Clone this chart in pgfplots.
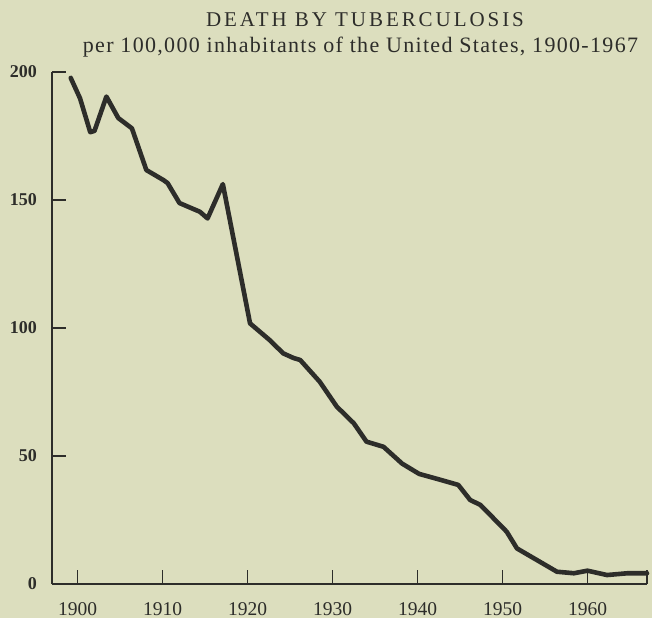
\documentclass[border=0pt]{standalone}
\usepackage{fontspec}
\setmainfont{Liberation Serif}
\newfontfamily\titleA[LetterSpace=14]{Liberation Serif}
\newfontfamily\titleB[LetterSpace=6]{Liberation Serif}
\usepackage{pgfplots}
\pgfplotsset{compat=1.18}
\definecolor{bg}{RGB}{220,222,190}
\definecolor{ink}{RGB}{45,45,42}
\begin{document}
\begin{tikzpicture}[x=1pt,y=1pt]
\fill[bg] (0,0) rectangle (652,618);
\node[anchor=base, inner sep=0, text=ink] at (365,591.3) {\titleA\fontsize{21}{21}\selectfont DEATH BY TUBERCULOSIS};
\node[anchor=base, inner sep=0, text=ink] at (360.5,565.3) {\titleB\fontsize{22}{22}\selectfont per 100,000 inhabitants of the United States, 1900-1967};
\begin{axis}[
  at={(52pt,34pt)}, anchor=south west,
  scale only axis, width=595pt, height=512pt,
  xmin=1897, xmax=1967, ymin=0, ymax=200,
  axis x line=bottom, axis y line=left,
  axis line style={-, line width=2.2pt, ink},
  xtick={1900,1910,1920,1930,1940,1950,1960},
  extra x ticks={1967}, extra x tick labels={},
  ytick={0,50,100,150,200},
  tick align=inside, major tick length=14pt,
  tick style={line width=1.8pt, ink},
  clip=false,
  /pgf/number format/assume math mode=true,
  /pgf/number format/1000 sep={},
  xticklabel style={font=\fontsize{19.5}{19.5}\selectfont, text=ink, anchor=north, inner sep=0pt, yshift=-18pt},
  yticklabel style={font=\bfseries\fontsize{18}{18}\selectfont, text=ink, anchor=east, inner sep=0pt, xshift=-15pt},
]
\addplot[ink, line width=4.6pt, line join=round, line cap=round] coordinates {
(1899.2,197.7) (1900.3,189.7) (1901.5,176.5) (1902.0,177) (1903.4,190.4)
(1904.8,182) (1906.4,178) (1908.1,161.7) (1910.1,157.8) (1910.6,156.6)
(1912.0,148.8) (1914.4,145.4) (1915.3,142.8) (1917.1,156.2) (1920.3,101.8)
(1922.6,95.3) (1924.2,90.1) (1925.4,88.3) (1926.2,87.5) (1928.5,79)
(1930.5,69.3) (1932.5,62.8) (1934.0,55.6) (1936.0,53.6) (1938.2,47)
(1940.2,43) (1942.7,40.7) (1944.8,38.7) (1946.2,32.8) (1947.4,30.9)
(1950.5,20.4) (1951.7,13.9) (1956.4,4.8) (1958.4,4.2) (1960.0,5.2)
(1962.3,3.5) (1964.7,4.2) (1967.0,4.2)
};
\end{axis}
\end{tikzpicture}
\end{document}
